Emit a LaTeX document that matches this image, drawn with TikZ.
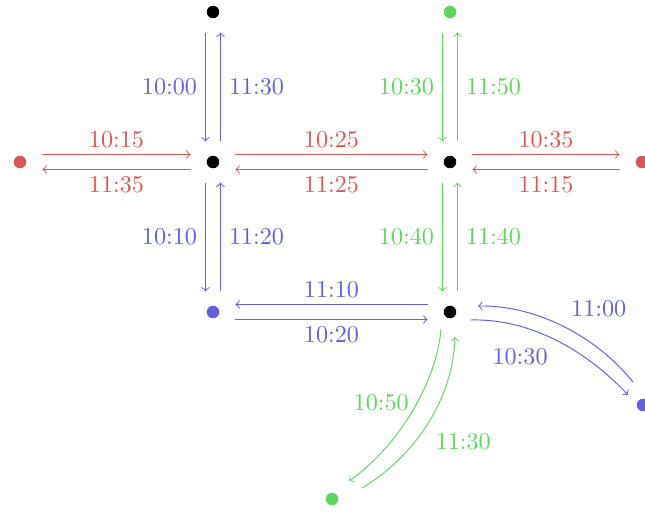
\documentclass[tikz,border=0pt]{standalone}
\definecolor{cr}{RGB}{216,88,88}
\definecolor{cb}{RGB}{96,96,222}
\definecolor{cg}{RGB}{92,214,92}
\begin{document}
\begin{tikzpicture}[x=0.414pt,y=-0.414pt,
  hub/.style={rectangle,minimum width=18.2pt,minimum height=16.6pt,inner sep=0pt},
  route/.style={->},
  ab/.style={above,inner sep=2.6pt},
  bl/.style={below,inner sep=2.6pt}]
\useasboundingbox (0,0) rectangle (645,512);
% nodes
\node[hub] (t1) at (213,12) {};
\node[hub] (t2) at (450,12) {};
\node[hub] (rl) at (20,162) {};
\node[hub] (b1) at (213,162) {};
\node[hub] (b2) at (450,162) {};
\node[hub] (rr) at (642,162) {};
\node[hub] (lb) at (213,312) {};
\node[hub] (b3) at (450,312) {};
\node[hub] (br) at (643,405) {};
\node[hub] (g) at (332,499) {};
\fill[black] (t1) circle (2.6pt);
\fill[cg] (t2) circle (2.6pt);
\fill[cr] (rl) circle (2.6pt);
\fill[black] (b1) circle (2.6pt);
\fill[black] (b2) circle (2.6pt);
\fill[cr] (rr) circle (2.6pt);
\fill[cb] (lb) circle (2.6pt);
\fill[black] (b3) circle (2.6pt);
\fill[cb] (br) circle (2.6pt);
\fill[cg] (g) circle (2.6pt);
% red horizontals
\draw[route,cr] ([shift={(0,-7.5)}]rl.east) -- node[ab]{10:15} ([shift={(0,-7.5)}]b1.west);
\draw[route,cr] ([shift={(0,7.5)}]b1.west) -- node[bl]{11:35} ([shift={(0,7.5)}]rl.east);
\draw[route,cr] ([shift={(0,-7.5)}]b1.east) -- node[ab]{10:25} ([shift={(0,-7.5)}]b2.west);
\draw[route,cr] ([shift={(0,7.5)}]b2.west) -- node[bl]{11:25} ([shift={(0,7.5)}]b1.east);
\draw[route,cr] ([shift={(0,-7.5)}]b2.east) -- node[ab]{10:35} ([shift={(0,-7.5)}]rr.west);
\draw[route,cr] ([shift={(0,7.5)}]rr.west) -- node[bl]{11:15} ([shift={(0,7.5)}]b2.east);
% blue verticals
\draw[route,cb] ([shift={(-7.5,0)}]t1.south) -- node[left]{10:00} ([shift={(-7.5,0)}]b1.north);
\draw[route,cb] ([shift={(7.5,0)}]b1.north) -- node[right]{11:30} ([shift={(7.5,0)}]t1.south);
\draw[route,cb] ([shift={(-7.5,0)}]b1.south) -- node[left]{10:10} ([shift={(-7.5,0)}]lb.north);
\draw[route,cb] ([shift={(7.5,0)}]lb.north) -- node[right]{11:20} ([shift={(7.5,0)}]b1.south);
% green verticals
\draw[route,cg] ([shift={(-7.5,0)}]t2.south) -- node[left]{10:30} ([shift={(-7.5,0)}]b2.north);
\draw[route,cg] ([shift={(7.5,0)}]b2.north) -- node[right]{11:50} ([shift={(7.5,0)}]t2.south);
\draw[route,cg] ([shift={(-7.5,0)}]b2.south) -- node[left]{10:40} ([shift={(-7.5,0)}]b3.north);
\draw[route,cg] ([shift={(7.5,0)}]b3.north) -- node[right]{11:40} ([shift={(7.5,0)}]b2.south);
% blue bottom row
\draw[route,cb] ([shift={(0,-7.5)}]b3.west) -- node[ab]{11:10} ([shift={(0,-7.5)}]lb.east);
\draw[route,cb] ([shift={(0,7.5)}]lb.east) -- node[bl]{10:20} ([shift={(0,7.5)}]b3.west);
% blue curves
\draw[route,cb] ([shift={(20,8)}]b3.center) .. controls ([shift={(80,6)}]b3.center) and ([shift={(-56,-54)}]br.center) .. ([shift={(-15,-10)}]br.center) node[pos=0.5,below left]{10:30};
\draw[route,cb] ([shift={(-10,-23)}]br.center) .. controls ([shift={(-48,-70)}]br.center) and ([shift={(85,-7)}]b3.center) .. ([shift={(28,-6)}]b3.center) node[pos=0.5,above right]{11:00};
% green curves
\draw[route,cg] ([shift={(-9,17)}]b3.center) .. controls ([shift={(-13,68)}]b3.center) and ([shift={(68,-54)}]g.center) .. ([shift={(17,-18)}]g.center) node[pos=0.45,left]{10:50};
\draw[route,cg] ([shift={(30,-11)}]g.center) .. controls ([shift={(82,-42)}]g.center) and ([shift={(3,88)}]b3.center) .. ([shift={(5,25)}]b3.center) node[pos=0.5,below right]{11:30};
\end{tikzpicture}
\end{document}
